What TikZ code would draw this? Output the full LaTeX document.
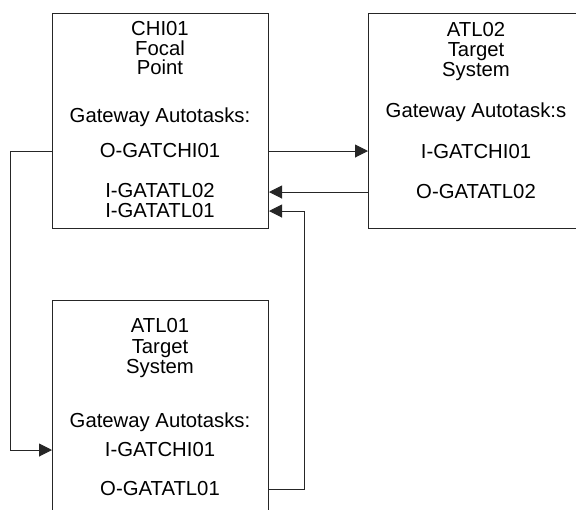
\documentclass[tikz,border=0pt]{standalone}
\usepackage{fontspec}
\setmainfont{Liberation Sans}
\usetikzlibrary{arrows.meta,positioning,calc}

\begin{document}
\begin{tikzpicture}[
        x=1pt, y=-1pt,
        line width=1pt,
        >={Triangle[length=13pt,width=13pt]},
        system/.style={rectangle, draw=black!85, minimum width=216pt, minimum height=215pt, anchor=north west, inner sep=0pt},
        entry/.style={anchor=base, inner sep=1pt, font=\fontsize{20.3}{20}\selectfont},
        link/.style={draw=black!85, ->}
    ]
    \clip (0,0) rectangle (576,510);

    % Boxes
    \node[system] (chi) at (52,13) {};
    \node[system] (atltwo) at (368,13) {};
    \node[system, minimum height=240pt] (atlone) at (52,300) {};

    % Focal point
    \node[entry] (chiname) at (160,36) {CHI01};
    \node[entry] (chifocal) at (160,56) {Focal};
    \node[entry] (chipoint) at (160,75) {Point};
    \node[entry] (chigw) at (160,123) {Gateway Autotasks:};
    \node[entry] (chiout) at (160,158) {O-GATCHI01};
    \node[entry] (chiintwo) at (160,198) {I-GATATL02};
    \node[entry] (chiinone) at (160,218) {I-GATATL01};

    % Target ATL02
    \node[entry] (atltwoname) at (476,37) {ATL02};
    \node[entry] (atltwotarget) at (476,57) {Target};
    \node[entry] (atltwosys) at (476,77) {System};
    \node[entry] (atltwogw) at (476,118) {Gateway Autotask:s};
    \node[entry] (atltwoin) at (476,159) {I-GATCHI01};
    \node[entry] (atltwoout) at (476,199) {O-GATATL02};

    % Target ATL01
    \node[entry] (atlonename) at (160,333) {ATL01};
    \node[entry] (atlonetarget) at (160,354) {Target};
    \node[entry] (atlonesys) at (160,374) {System};
    \node[entry] (atlonegw) at (160,428) {Gateway Autotasks:};
    \node[entry] (atlonein) at (160,457) {I-GATCHI01};
    \node[entry] (atloneout) at (160,496) {O-GATATL01};

    % Connections
    \draw[link] (chi.east |- chiout) -- (atltwo.west |- chiout);
    \draw[link] (atltwo.west |- atltwoout) -- (chi.east |- atltwoout);
    \draw[link] (chi.west |- chiout) -- ++(-42,0) |- (atlone.west |- atlonein);
    \draw[link] (atlone.east |- atloneout) -- ++(35,0) |- (chi.east |- chiinone);

\end{tikzpicture}
\end{document}
